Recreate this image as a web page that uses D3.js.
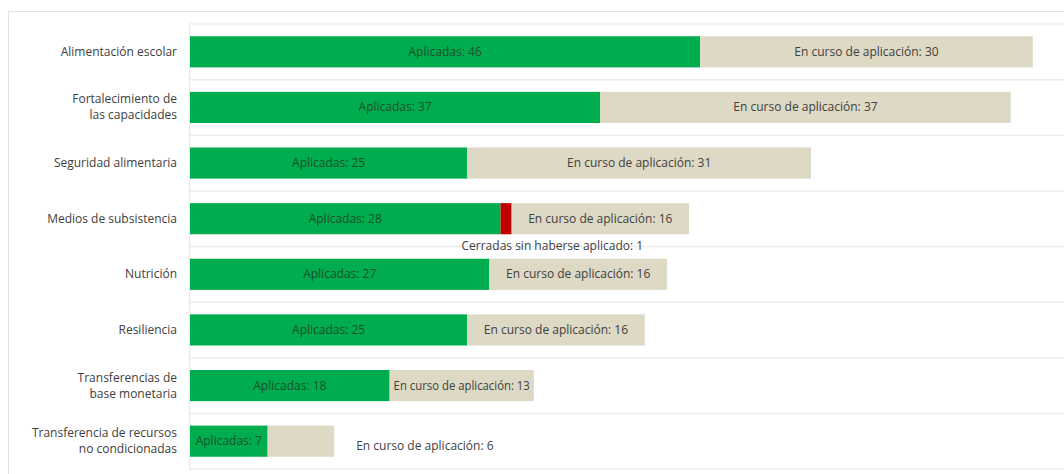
<!DOCTYPE html>
<html>
<head>
<meta charset="utf-8">
<script src="https://cdn.jsdelivr.net/npm/d3@7"></script>
<style>
  body { margin: 0; background: #fff; }
  svg { display: block; font-family: "Open Sans", sans-serif; }
</style>
</head>
<body>
<svg id="chart" width="1064" height="474"></svg>
<script>
var categories = [
	["Alimentación escolar"],
	["Fortalecimiento de", "las capacidades"],
	["Seguridad alimentaria"],
	["Medios de subsistencia"],
	["Nutrición"],
	["Resiliencia"],
	["Transferencias de", "base monetaria"],
	["Transferencia de recursos", "no condicionadas"]
];
var aplicadas = [46, 37, 25, 28, 27, 25, 18, 7];
var cerradas = [0, 0, 0, 1, 0, 0, 0, 0];
var enCurso = [30, 37, 31, 16, 16, 16, 13, 6];

draw();

function draw() {
	var green = "#00ad4e", red = "#c00000", beige = "#ddd9c4";

	var svg = d3.select("#chart");
	var W = 1064, H = 474;
	var plotLeft = 190, plotTop = 24, plotBottom = 469;

	var rows = categories.map((c, i) => ({
		key: c.join(" "), lines: c,
		a: aplicadas[i], c: cerradas[i], e: enCurso[i]
	}));

	var x = d3.scaleLinear().domain([0, 80]).range([plotLeft, plotLeft + 80 * 11.09]);
	var y = d3.scaleBand()
		.domain(rows.map(d => d.key))
		.range([plotTop, plotBottom])
		.paddingInner(0.44)
		.paddingOuter(0.22);
	var step = y.step();

	// outer frame
	svg.append("rect")
	  .attr("x", 8.5).attr("y", 11.5)
	  .attr("width", W + 20).attr("height", H + 20)
	  .attr("fill", "none")
	  .attr("stroke", "#e3e3e3");

	// plot frame + row separators
	svg.append("line")
	  .attr("x1", plotLeft - 0.5).attr("x2", plotLeft - 0.5)
	  .attr("y1", plotTop).attr("y2", plotBottom)
	  .attr("stroke", "#ececec").attr("stroke-width", 1.5);
	svg.append("g")
	  .selectAll("line")
	  .data(d3.range(rows.length + 1))
	  .join("line")
	  .attr("x1", plotLeft - 1).attr("x2", W)
	  .attr("y1", i => plotTop + i * step)
	  .attr("y2", i => plotTop + i * step)
	  .attr("stroke", "#ececec")
	  .attr("stroke-width", 1.5);

	// category labels
	svg.append("g")
	  .selectAll("text")
	  .data(rows)
	  .join("text")
	  .attr("text-anchor", "end")
	  .attr("font-size", 12)
	  .attr("fill", "#404040")
	  .each(function(d) {
		  var cy = y(d.key) + y.bandwidth() / 2;
		  var n = d.lines.length;
		  d3.select(this).selectAll("tspan")
			.data(d.lines)
			.join("tspan")
			.attr("x", 177)
			.attr("y", (l, j) => cy + 4 + (j - (n - 1) / 2) * 16)
			.text(l => l);
	  });

	// stacked bars
	var segs = [];
	rows.forEach(d => {
		segs.push({row: d, x0: 0, x1: d.a, fill: green});
		if (d.c) segs.push({row: d, x0: d.a, x1: d.a + d.c, fill: red});
		segs.push({row: d, x0: d.a + d.c, x1: d.a + d.c + d.e, fill: beige});
	});

	svg.append("g")
	  .selectAll("rect")
	  .data(segs)
	  .join("rect")
	  .attr("x", d => x(d.x0))
	  .attr("width", d => x(d.x1) - x(d.x0))
	  .attr("y", d => y(d.row.key))
	  .attr("height", y.bandwidth())
	  .attr("fill", d => d.fill);

	// labels
	var lab = svg.append("g").attr("font-size", 12);
	rows.forEach(d => {
		var cy = y(d.key) + y.bandwidth() / 2;
		lab.append("text")
		   .attr("x", (x(0) + x(d.a)) / 2)
		   .attr("y", cy + 4)
		   .attr("text-anchor", "middle")
		   .attr("fill", "#1b4f2a")
		   .text("Aplicadas: " + d.a);

		var e0 = x(d.a + d.c), e1 = x(d.a + d.c + d.e);
		var t = lab.append("text")
		   .attr("fill", "#404040")
		   .text("En curso de aplicación: " + d.e);
		if (e1 - e0 > 120) {
			t.attr("x", (e0 + e1) / 2).attr("y", cy + 4).attr("text-anchor", "middle");
			// squeeze a little when it barely fits
			if (t.node().getComputedTextLength() > e1 - e0 - 8) {
				t.attr("textLength", e1 - e0 - 8)
				 .attr("lengthAdjust", "spacingAndGlyphs");
			}
		} else {
			t.attr("x", e1 + 22).attr("y", cy + 9).attr("text-anchor", "start");
		}

		if (d.c) {
			lab.append("text")
			   .attr("x", (e0 + e1) / 2 - 48)
			   .attr("y", y(d.key) + y.bandwidth() + 16)
			   .attr("text-anchor", "middle")
			   .attr("fill", "#404040")
			   .text("Cerradas sin haberse aplicado: " + d.c);
		}
	});
}
</script>
</body>
</html>
